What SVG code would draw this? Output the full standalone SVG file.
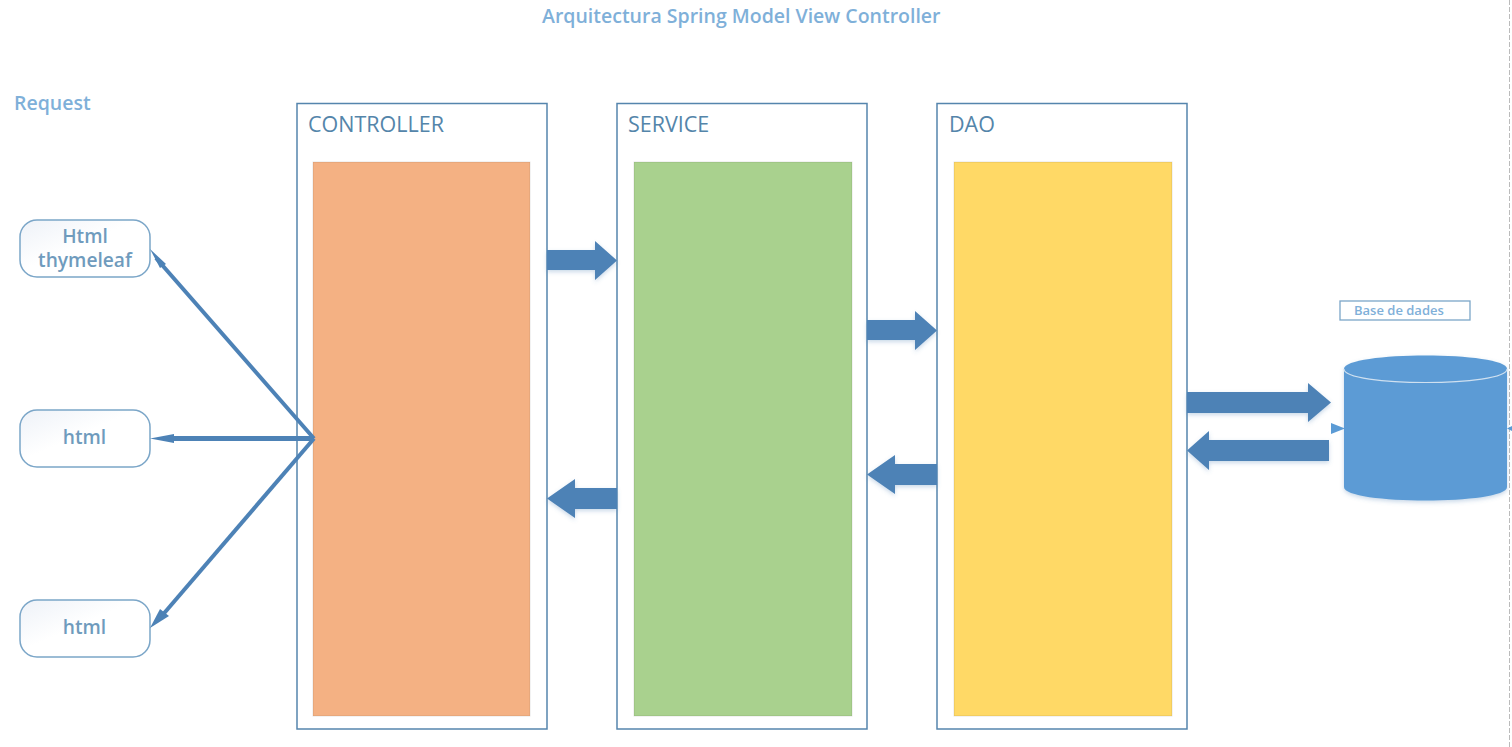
<svg xmlns="http://www.w3.org/2000/svg" width="1512" height="747" viewBox="0 0 1512 747">
<style>
text{font-family:"Open Sans","Noto Sans","Liberation Sans",sans-serif}
.t{fill:#7fb0d9;font-size:19.500px;font-weight:600}
.h{fill:#5485aa;font-size:21.500px;font-weight:400}
.n{fill:#6f9bbd;font-size:19.200px;font-weight:600;text-anchor:middle}
.box{fill:#fff;stroke:#5585ad;stroke-width:1.500}
.pill{fill:url(#pg);stroke:#7ba6c8;stroke-width:1.500}
.arr{fill:#4d82b6;filter:url(#sh)}
.ln{stroke:#4d82b6;stroke-width:4;fill:none}
.hd{fill:#4d82b6}
.in{stroke:#0000001a;stroke-width:1}
</style>
<defs>
<linearGradient id="pg" x1="0" y1="0" x2="1" y2="1"><stop offset="0" stop-color="#eef2f8"/><stop offset=".45" stop-color="#fff"/><stop offset="1" stop-color="#fff"/></linearGradient>
<filter id="sh" x="-10%" y="-20%" width="120%" height="150%"><feDropShadow dx="0" dy="2" stdDeviation="2" flood-color="#4d82b6" flood-opacity=".3"/></filter>
</defs>
<line x1="1509.500" y1="0" x2="1509.500" y2="747" stroke="#bbb" stroke-width="1" stroke-dasharray="5 2"/>
<text id="title" class="t" x="542" y="23">Arquitectura Spring Model View Controller</text>
<text id="request" class="t" x="14" y="109.500">Request</text>
<g id="controller"><rect class="box" x="297" y="103.500" width="250" height="625.500"/><text class="h" x="308" y="131.500">CONTROLLER</text><rect class="in" x="313" y="162" width="217" height="554" fill="#f4b183"/></g>
<g id="service"><rect class="box" x="617" y="103.500" width="250" height="625.500"/><text class="h" x="628" y="131.500">SERVICE</text><rect class="in" x="634" y="162" width="218" height="554" fill="#a9d18e"/></g>
<g id="dao"><rect class="box" x="937" y="103.500" width="250" height="625.500"/><text class="h" x="949" y="131.500">DAO</text><rect class="in" x="954" y="162" width="218" height="554" fill="#ffd966"/></g>
<g id="html-thymeleaf"><rect class="pill" x="20" y="220" width="130" height="57" rx="17"/><text class="n" x="85" y="242.500">Html</text><text class="n" x="85" y="266.500">thymeleaf</text></g>
<g id="html-2"><rect class="pill" x="20" y="410" width="130" height="57" rx="17"/><text class="n" x="84.500" y="443.500">html</text></g>
<g id="html-3"><rect class="pill" x="20" y="600" width="130" height="57" rx="17"/><text class="n" x="84.500" y="633.500">html</text></g>
<g id="base-de-dades"><rect x="1340" y="301" width="130" height="19" fill="#fff" stroke="#7ba6c8" stroke-width="1.300"/><text x="1354" y="314.500" font-size="13" font-weight="600" fill="#7fb0d9">Base de dades</text></g>
<g id="database">
<path d="M1344 369C1344 351 1507 351 1507 369V487C1507 505 1344 505 1344 487Z" fill="#5b9bd5" filter="url(#sh)"/>
<path d="M1344 369C1344 387 1507 387 1507 369" fill="none" stroke="#cfe0f0" stroke-width="1.200"/>
</g>
<g id="connectors">
<line class="ln" x1="314" y1="438.500" x2="156" y2="258"/>
<path class="hd" d="M150 249L166 264L160 268Z"/>
<line class="ln" x1="314" y1="438.500" x2="165" y2="438.500" style="stroke-width:5"/>
<path class="hd" d="M150 438.500L174 434V443Z"/>
<line class="ln" x1="314" y1="438.500" x2="160" y2="618"/>
<path class="hd" d="M150 628L160 609L169 616Z"/>
<path class="arr" d="M547 250H595V241L617 260.500L595 280V270H547Z"/>
<path class="arr" d="M867 320H915V311L937 330.500L915 350V340H867Z"/>
<path class="arr" d="M617 488H575V479L547 498.500L575 518V509H617Z"/>
<path class="arr" d="M937 464H895V455L867 474.500L895 494V485H937Z"/>
<path class="arr" d="M1187 392H1308V383L1331 402.500L1308 422V413H1187Z"/>
<path class="arr" d="M1329 440H1209V431L1187 450.500L1209 470V461H1329Z"/>
<path d="M1331 423L1345 428.500L1331 434Z" fill="#5b9bd5"/>
<path d="M1507 428.500L1512 426V431Z" fill="#5b9bd5"/>
</g>
</svg>
